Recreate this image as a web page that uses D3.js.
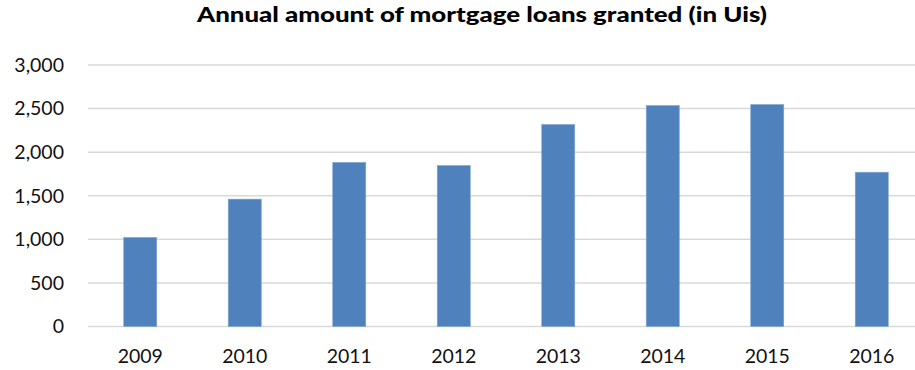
<!DOCTYPE html>
<html>
<head>
<meta charset="utf-8">
<script src="https://cdn.jsdelivr.net/npm/d3@7"></script>
<style>
  html, body { margin: 0; padding: 0; background: #fff; }
  svg { display: block; }
</style>
</head>
<body>
<svg id="chart" width="915" height="370"></svg>
<script>
// Annual amount of mortgage loans granted, 2009–2016
const years = ["2009", "2010", "2011", "2012", "2013", "2014", "2015", "2016"];
const amounts = [1022, 1461, 1882, 1847, 2317, 2535, 2546, 1770];
const yTicks = [0, 500, 1000, 1500, 2000, 2500, 3000];
const titleText = "Annual amount of mortgage loans granted (in Uis)";

const svg = d3.select("#chart");
const W = 915, H = 370;
const margin = { left: 88, right: -9, top: 65, bottom: 43.5 };

const x = d3.scaleBand()
  .domain(years)
  .range([margin.left, W - margin.right])
  .paddingInner(0.684)
  .paddingOuter(0.342);

const y = d3.scaleLinear()
  .domain([0, 3000])
  .range([H - margin.bottom, margin.top]);

const fontFamily = "Lato, 'Open Sans', sans-serif";

// gridlines
svg.append("g")
  .selectAll("line")
  .data(yTicks)
  .join("line")
  .attr("x1", margin.left)
  .attr("x2", W)
  .attr("y1", d => y(d))
  .attr("y2", d => y(d))
  .attr("stroke", "#d9d9d9")
  .attr("stroke-width", 1.5);

// bars
svg.append("g")
  .selectAll("rect")
  .data(years.map((yr, i) => ({ yr, v: amounts[i] })))
  .join("rect")
  .attr("x", d => x(d.yr))
  .attr("y", d => y(d.v))
  .attr("width", x.bandwidth())
  .attr("height", d => y(0) - y(d.v))
  .attr("fill", "#4f81bd")
  .attr("stroke", "#7fa3cf")
  .attr("stroke-width", 0.6);

// y axis labels
const yAxis = d3.axisLeft(y)
  .tickValues(yTicks)
  .tickFormat(d3.format(","))
  .tickSize(0)
  .tickPadding(0);
const gy = svg.append("g")
  .attr("transform", `translate(64,0)`)
  .call(yAxis);
gy.select(".domain").remove();
gy.selectAll("text")
  .attr("font-family", fontFamily)
  .attr("font-size", 19.5)
  .attr("fill", "#111");

// x axis labels
const xAxis = d3.axisBottom(x).tickSize(0).tickPadding(0);
const gx = svg.append("g")
  .attr("transform", `translate(0,${y(0) + 23})`)
  .call(xAxis);
gx.select(".domain").remove();
gx.selectAll("text")
  .attr("font-family", fontFamily)
  .attr("font-size", 19.5)
  .attr("fill", "#111");

// title
svg.append("text")
  .attr("x", 197)
  .attr("y", 22)
  .attr("font-family", fontFamily)
  .attr("font-weight", 900)
  .attr("font-size", 20.5)
  .attr("textLength", 570)
  .attr("lengthAdjust", "spacingAndGlyphs")
  .attr("fill", "#000")
  .text(titleText);
</script>
</body>
</html>
